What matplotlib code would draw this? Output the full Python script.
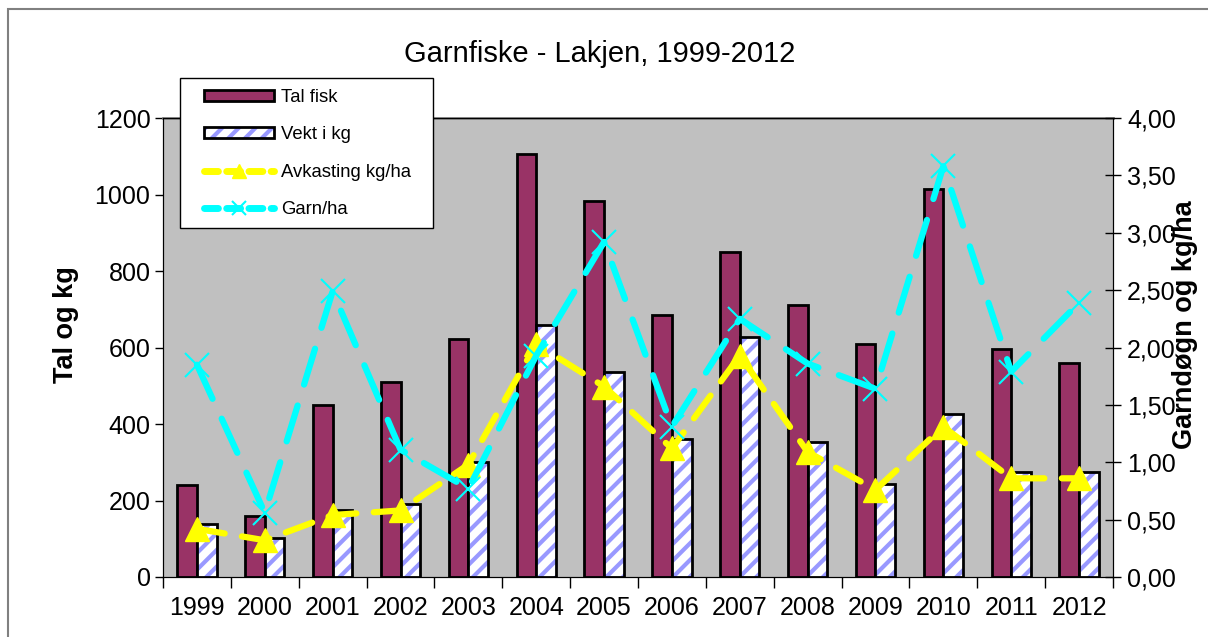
import matplotlib
matplotlib.use("Agg")
import matplotlib.pyplot as plt
from matplotlib.lines import Line2D
from matplotlib.patches import Patch, Rectangle
from matplotlib.legend_handler import HandlerTuple
import numpy as np

plt.rcParams['font.family'] = ['Liberation Sans', 'DejaVu Sans']
plt.rcParams['hatch.linewidth'] = 3

years = ['1999', '2000', '2001', '2002', '2003', '2004', '2005', '2006',
         '2007', '2008', '2009', '2010', '2011', '2012']
tal_fisk = [240, 160, 450, 510, 622, 1105, 983, 685, 849, 710, 609, 1015, 596, 559]
vekt_kg = [138, 103, 175, 190, 300, 659, 537, 362, 627, 352, 243, 427, 274, 275]
avkasting = [0.42, 0.32, 0.54, 0.58, 0.98, 2.03, 1.66, 1.12, 1.93, 1.09, 0.76, 1.31, 0.86, 0.86]
garn_ha = [1.85, 0.56, 2.49, 1.11, 0.77, 1.93, 2.92, 1.31, 2.25, 1.86, 1.64, 3.58, 1.79, 2.39]

W, H = 1208, 637
fig = plt.figure(figsize=(W / 100, H / 100), dpi=100)
fig.patch.set_facecolor('white')

# outer frame (top and left visible)
fig.add_artist(Rectangle((8 / W, -0.1), 1.2, (H - 9) / H + 0.1, transform=fig.transFigure,
                         fill=False, edgecolor='#808080', linewidth=1.5))

ax = fig.add_axes([163 / W, 1 - 577 / H, (1113 - 163) / W, (577 - 118) / H])
ax.set_facecolor('#C0C0C0')

x = np.arange(len(years))
bw = 0.29
ax.bar(x - bw / 2, tal_fisk, bw, color='#993366', edgecolor='black', linewidth=2, zorder=3)
ax.bar(x + bw / 2, vekt_kg, bw, color='white', edgecolor='#9999FF', hatch='//', linewidth=0, zorder=3)
ax.bar(x + bw / 2, vekt_kg, bw, color='none', edgecolor='black', linewidth=2, zorder=4)

ax.set_xlim(-0.5, len(years) - 0.5)
ax.set_ylim(0, 1200)
ax.set_yticks(np.arange(0, 1201, 200))
ax.tick_params(axis='y', direction='out', length=6, labelsize=18, width=1, pad=3)
ax.set_xticks(x)
ax.set_xticklabels(years)
ax.tick_params(axis='x', which='major', length=0, labelsize=18, pad=14)
ax.set_xticks(np.arange(-0.5, len(years), 1), minor=True)
ax.tick_params(axis='x', which='minor', direction='out', length=8, width=1)
for s in ['left', 'bottom', 'right']:
    ax.spines[s].set_color('black')
ax.spines['top'].set_color('#808080')
ax.spines['top'].set_linewidth(2)
ax.set_ylabel('Tal og kg', fontsize=19.5, fontweight='bold')
ax.yaxis.set_label_coords(-0.088, 0.549)

ax2 = ax.twinx()
ax2.set_ylim(0, 4)
ax2.set_yticks(np.arange(0, 4.01, 0.5))
ax2.set_yticklabels([f'{v:.2f}'.replace('.', ',') for v in np.arange(0, 4.01, 0.5)])
ax2.tick_params(axis='y', direction='inout', length=12, labelsize=18, width=1, pad=4)
ax2.spines['right'].set_color('black')

l1, = ax2.plot(x, avkasting, color='#FFFF00', linewidth=4.5, dashes=(4.5, 2.8),
               marker='^', markersize=17, markerfacecolor='#FFFF00',
               markeredgecolor='#FFFF00', zorder=5, dash_capstyle='round')
l2, = ax2.plot(x, garn_ha, color='#00FFFF', linewidth=4.5, dashes=(6, 3.5),
               marker='x', markersize=17, markeredgewidth=1.5,
               markeredgecolor='#00FFFF', zorder=6, dash_capstyle='round')
ax2.set_ylabel('Garndøgn og kg/ha', fontsize=19.5, fontweight='bold', rotation=90)
ax2.yaxis.set_label_coords(1.062, 0.549)

fig.text(600 / W, 1 - 54 / H, 'Garnfiske - Lakjen, 1999-2012', ha='center', va='center', fontsize=21)

# legend box
fig.add_artist(Rectangle((180 / W, 1 - 228 / H), (433 - 180) / W, (228 - 78) / H,
                         transform=fig.transFigure, facecolor='white', edgecolor='black',
                         linewidth=1, zorder=9))

h1 = Patch(facecolor='#993366', edgecolor='black', linewidth=2)
h2a = Patch(facecolor='white', edgecolor='#9999FF', hatch='//', linewidth=0)
h2b = Patch(facecolor='none', edgecolor='black', linewidth=2)
h3 = Line2D([], [], color='#FFFF00', linewidth=5, dashes=(2, 1.2), marker='^', markersize=10,
            markeredgecolor='#FFFF00', markerfacecolor='#FFFF00', dash_capstyle='round')
h4 = Line2D([], [], color='#00FFFF', linewidth=5, dashes=(2, 1.2), marker='x', markersize=10,
            markeredgewidth=1.5, markeredgecolor='#00FFFF', dash_capstyle='round')
leg = fig.legend([h1, (h2a, h2b), h3, h4], ['Tal fisk', 'Vekt i kg', 'Avkasting kg/ha', 'Garn/ha'],
                 handler_map={tuple: HandlerTuple(ndivide=1)},
                 loc='upper left', bbox_to_anchor=(204 / W, 1 - 89 / H), fontsize=13.3,
                 frameon=False, handlelength=3.78, handleheight=0.55, labelspacing=1.1,
                 borderpad=0, handletextpad=0.4, borderaxespad=0)
leg.set_zorder(10)

fig.savefig('out.png', dpi=100, facecolor='white')
